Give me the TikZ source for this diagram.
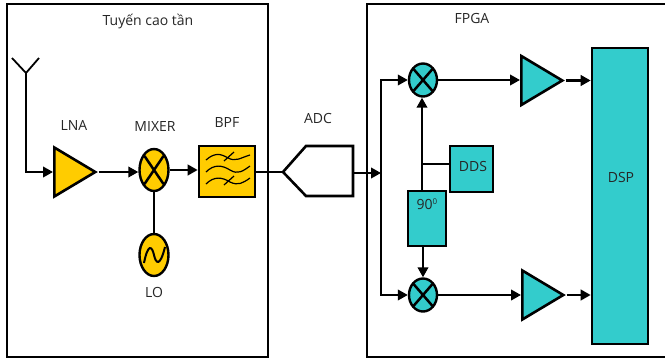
\documentclass[tikz,border=0pt]{standalone}
\usepackage{fontspec}
\setmainfont{Open Sans}
\usetikzlibrary{arrows.meta,shapes.geometric,calc}
\definecolor{amber}{HTML}{FFCC00}
\definecolor{teal2}{HTML}{33CCCC}
\tikzset{
  wire/.style={line width=2.3pt,black},
  arrowwire/.style={wire,-{Triangle[length=10pt,width=10.5pt]}},
  frame/.style={draw,line width=2.8pt,fill=none},
  label/.style={font=\fontsize{14}{16}\selectfont,inner sep=0pt,text=black!85},
  blockbox/.style={draw,line width=2.6pt,inner sep=0pt},
  amp/.style={isosceles triangle,isosceles triangle stretches,draw,line width=2.6pt,inner sep=0pt,
     minimum width=49pt,minimum height=41pt,anchor=west},
}
\begin{document}
\begin{tikzpicture}[x=1pt,y=-1pt]
\useasboundingbox (0,0) rectangle (665,359);
\path[fill=white] (0,0) rectangle (665,359);
% frames
\node[frame,minimum width=261pt,minimum height=353pt,inner sep=0pt] (rf) at (137.5,180.5) {};
\node[frame,minimum width=320pt,minimum height=353pt,inner sep=0pt] (fpga) at (527,180.5) {};
% titles
\node[label] (rftitle) at (148,21) {Tuyến cao tần};
\node[label] (fpgatitle) at (472,18) {FPGA};
\node[label] (lnatext) at (74,125) {LNA};
\node[label] (mixtext) at (155,127) {MIXER};
\node[label] (bpftext) at (227,123) {BPF};
\node[label] (lotext) at (154,292) {LO};
\node[label] (adctext) at (318,118) {ADC};
% RF blocks
\node[amp,fill=amber] (lna) at (53,172) {};
\node[ellipse,draw,line width=2.4pt,fill=amber,minimum width=29pt,minimum height=42pt,inner sep=0pt,
  path picture={\draw[line width=2.5pt] (path picture bounding box.center) ++(-9.5,-14) -- ++(19,28)
     (path picture bounding box.center) ++(9.5,-14) -- ++(-19,28);}] (mix) at (154,170) {};
\node[ellipse,draw,line width=2.4pt,fill=amber,minimum width=29pt,minimum height=42pt,inner sep=0pt] (lo) at (154,255) {};
\node[blockbox,fill=amber,minimum width=56pt,minimum height=51pt] (bpf) at (227,171.5) {};
% LO sine
\draw[line width=2pt] (144,263) .. controls (148,243) and (152,246) .. (154,255) .. controls (156,264) and (160,267) .. (165,247);
% BPF waves
\draw[line width=1.2pt]
  (206,160) .. controls (214,153) and (220,153) .. (228,158) .. controls (236,162) and (240,158) .. (250,155)
  (206,172) .. controls (214,164) and (222,165) .. (230,170) .. controls (238,175) and (243,171) .. (250,166)
  (206,184) .. controls (214,176) and (222,177) .. (230,182) .. controls (238,186) and (243,183) .. (250,178)
  (224,161) -- (234,152)
  (224,185) -- (234,176);
% antenna
\coordinate (antL) at (12,58);
\coordinate (antR) at (39,58);
\coordinate (antB) at (26,73);
\draw[line width=1.8pt] (antL) -- (antB) -- (antR);
\draw[arrowwire] (antB) |- (lna.west);
\draw[arrowwire] (lna.apex) -- (mix.west |- lna.apex);
\draw[arrowwire] (mix.east) -- (bpf.west |- mix.east);
\draw[wire] (mix.south) -- (lo.north);
% ADC
\coordinate (adcTip) at (283,172);
\coordinate (adcA) at (306,146);
\coordinate (adcB) at (353,146);
\coordinate (adcC) at (353,196);
\coordinate (adcD) at (306,196);
\coordinate (adcOut) at (353,173);
\draw[line width=2.6pt,line join=miter] (adcTip) -- (adcA) -- (adcB) -- (adcC) -- (adcD) -- cycle;
\draw[wire] (bpf.east |- adcTip) -- (adcTip);
% FPGA blocks
\node[blockbox,fill=teal2,minimum width=56pt,minimum height=296pt] (dsp) at (620,196) {};
\node[label] (dsptext) at (621,177) {DSP};
\node[ellipse,draw,line width=2.4pt,fill=teal2,minimum width=28pt,minimum height=33pt,inner sep=0pt,
  path picture={\draw[line width=2.5pt] (path picture bounding box.center) ++(-9.5,-11) -- ++(19,22)
     (path picture bounding box.center) ++(9.5,-11) -- ++(-19,22);}] (mixU) at (423,80) {};
\node[ellipse,draw,line width=2.4pt,fill=teal2,minimum width=28pt,minimum height=33pt,inner sep=0pt,
  path picture={\draw[line width=2.5pt] (path picture bounding box.center) ++(-9.5,-11) -- ++(19,22)
     (path picture bounding box.center) ++(9.5,-11) -- ++(-19,22);}] (mixD) at (423,295) {};
\node[amp,fill=teal2] (ampU) at (520,80.5) {};
\node[amp,fill=teal2] (ampD) at (521,295) {};
\node[blockbox,fill=teal2,minimum width=38pt,minimum height=55pt] (shift) at (427,218.5) {};
\node[label] (shifttext) at (427,204) {90\raisebox{5pt}{\fontsize{8}{9}\selectfont 0}};
\node[blockbox,fill=teal2,minimum width=43pt,minimum height=46pt] (dds) at (471.5,169) {};
\node[label] (ddstext) at (473,166) {DDS};
% FPGA wiring
\coordinate (bus) at (381,173);
\draw[arrowwire] (adcOut) -- (bus);
\draw[arrowwire,line join=miter] (bus) |- (mixU.west);
\draw[arrowwire,line join=miter] (bus) |- (mixD.west);
\coordinate (tap) at (422,164);
\draw[arrowwire] (422,191) -- (mixU.south -| tap);
\draw[line width=1.8pt] (tap) -- (tap -| dds.west);
\draw[arrowwire] (423,246) -- (mixD.north);
\draw[arrowwire] (mixU.east) -- (ampU.west |- mixU.east);
\draw[arrowwire] (mixD.east) -- (ampD.west |- mixD.east);
\draw[arrowwire] (ampU.apex) -- (dsp.west |- ampU.apex);
\draw[arrowwire] (ampD.apex) -- (dsp.west |- ampD.apex);
\end{tikzpicture}
\end{document}
